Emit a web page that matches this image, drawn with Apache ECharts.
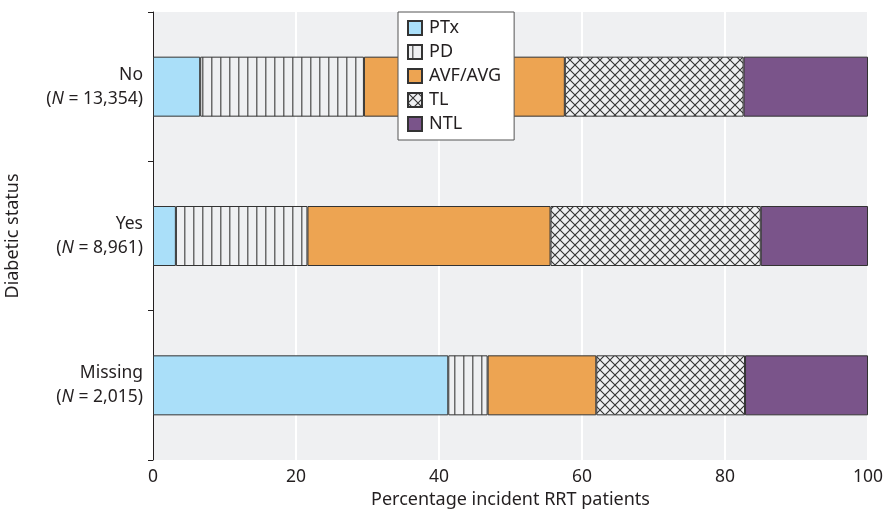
<!DOCTYPE html>
<html>
<head>
<meta charset="utf-8">
<script src="https://cdn.jsdelivr.net/npm/echarts@6/dist/echarts.min.js"></script>
<style>
  html, body { margin: 0; padding: 0; background: #fff; }
  #chart { width: 883px; height: 514px; }
</style>
</head>
<body>
<div id="chart"></div>
<script>
// categories (top to bottom) and patient counts
const categories = ["No", "Yes", "Missing"];
const counts = ["13,354", "8,961", "2,015"];

// percentage of incident RRT patients per modality
const ptx = [6.6, 3.2, 41.3];
const pd = [22.9, 18.4, 5.5];
const avf = [28.1, 34.0, 15.2];
const tl = [25.0, 29.4, 20.8];
const ntl = [17.4, 15.0, 17.2];

const xTicks = [0, 20, 40, 60, 80, 100];

const FONT = "Noto Sans";
const TXT = "#231f20";

// hatch patterns
function vLines() {
  const c = document.createElement("canvas");
  c.width = 9; c.height = 9;
  const g = c.getContext("2d");
  g.fillStyle = "#eff0f2";
  g.fillRect(0, 0, 9, 9);
  g.fillStyle = "#6b6b6b";
  g.fillRect(4, 0, 1.5, 9);
  return c;
}
function crossHatch() {
  const c = document.createElement("canvas");
  c.width = 10; c.height = 10;
  const g = c.getContext("2d");
  g.fillStyle = "#eff0f2";
  g.fillRect(0, 0, 10, 10);
  g.strokeStyle = "#333";
  g.lineWidth = 1.1;
  g.beginPath();
  g.moveTo(0, 0); g.lineTo(10, 10);
  g.moveTo(10, 0); g.lineTo(0, 10);
  g.stroke();
  return c;
}

const chart = echarts.init(document.getElementById("chart"));

function bar(name, data, color) {
  return {
    name: name,
    type: "bar",
    stack: "total",
    barWidth: 60,
    data: data,
    itemStyle: { color: color, borderColor: "#333", borderWidth: 1 }
  };
}

chart.setOption({
  animation: false,
  textStyle: { fontFamily: FONT, color: TXT },
  grid: {
    left: 153, right: 15, top: 12, bottom: 54,
    outerBoundsMode: "none",
    containLabel: false,
    show: true, backgroundColor: "#eff0f2", borderWidth: 0
  },
  legend: {
    orient: "vertical",
    left: 398, top: 12,
    padding: [7, 13, 7, 9],
    itemGap: 6,
    icon: "rect",
    itemWidth: 14, itemHeight: 14,
    backgroundColor: "#fff",
    borderColor: "#555", borderWidth: 1,
    textStyle: { fontFamily: FONT, fontSize: 18, color: TXT, padding: [0, 0, 0, 2] },
    data: ["PTx", "PD", "AVF/AVG", "TL", "NTL"]
  },
  xAxis: {
    type: "value",
    min: 0, max: 100, interval: 20,
    name: "Percentage incident RRT patients",
    nameLocation: "middle",
    nameGap: 31,
    nameTextStyle: { fontFamily: FONT, fontSize: 18, color: TXT },
    axisLine: { show: false },
    axisTick: { show: false },
    axisLabel: {
      fontFamily: FONT, fontSize: 17.5, color: TXT, margin: 8,
      formatter: v => xTicks.includes(v) ? String(v) : ""
    },
    splitLine: { show: true, lineStyle: { color: "#ffffff", width: 2 } }
  },
  yAxis: {
    type: "category",
    inverse: true,
    data: categories,
    name: "Diabetic status",
    nameLocation: "middle",
    nameGap: 131,
    nameTextStyle: { fontFamily: FONT, fontSize: 18, color: TXT },
    axisLine: { show: true, lineStyle: { color: TXT, width: 1 } },
    axisTick: { show: true, length: 5, lineStyle: { color: TXT } },
    axisLabel: {
      margin: 10,
      align: "right",
      formatter: (v, i) => "{t|" + v + "}\n{t|(}{i|N}{t| = " + counts[i] + ")}",
      rich: {
        t: { fontFamily: FONT, fontSize: 17.5, color: TXT, lineHeight: 24 },
        i: { fontFamily: FONT, fontSize: 17.5, color: TXT, lineHeight: 24, fontStyle: "italic" }
      }
    },
    splitLine: { show: false }
  },
  series: [
    bar("PTx", ptx, "#aadff9"),
    bar("PD", pd, { image: vLines(), repeat: "repeat" }),
    bar("AVF/AVG", avf, "#eda452"),
    bar("TL", tl, { image: crossHatch(), repeat: "repeat" }),
    bar("NTL", ntl, "#7a548a")
  ]
});
</script>
</body>
</html>
